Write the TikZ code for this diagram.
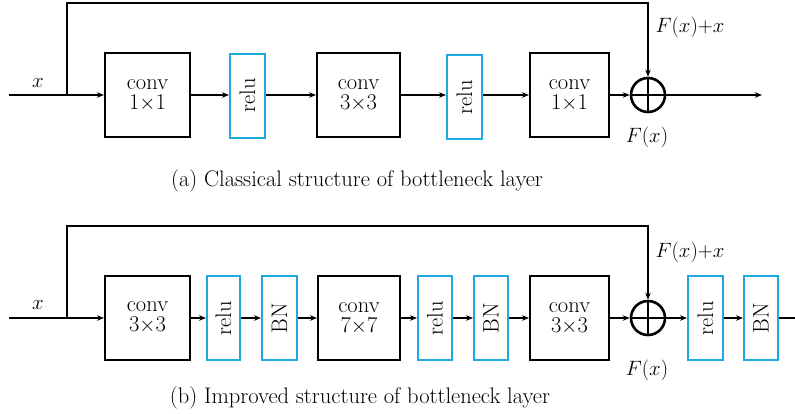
\documentclass[tikz,border=0pt]{standalone}
\usetikzlibrary{arrows.meta}
\definecolor{boxblue}{RGB}{32,168,226}
\begin{document}
\begin{tikzpicture}[x=1pt,y=-1pt,
  every node/.style={font=\fontsize{22.5}{24}\selectfont},
  convbox/.style={draw=black,line width=2pt,minimum width=#1,minimum height=84pt,inner sep=0pt,align=center},
  actbox/.style={draw=boxblue,line width=2pt,minimum width=#1,minimum height=84pt,inner sep=0pt},
  sumnode/.style={draw=black,circle,line width=2.6pt,minimum size=34pt,inner sep=0pt},
  conn/.style={line width=1.6pt},
  arr/.style={conn,-{Stealth[length=7pt,width=5.5pt]}}]
\useasboundingbox (0,0) rectangle (795,413);
% ---------- (a) ----------
\coordinate (ain) at (9,95);
\coordinate (asplit) at (67,95);
\coordinate (atl) at (67,3);
\coordinate (atr) at (648,3);
\coordinate (aout) at (762,95);
\node[convbox=85pt] (ac1) at (147.5,95) {conv\\[-4pt]1$\times$1};
\node[actbox=35pt] (ar1) at (247.5,95.5) {\rotatebox{90}{relu}};
\node[convbox=83pt] (ac2) at (358.5,95) {conv\\[-4pt]3$\times$3};
\node[actbox=35pt] (ar2) at (464.5,97) {\rotatebox{90}{relu}};
\node[convbox=79pt] (ac3) at (569.5,95) {conv\\[-4pt]1$\times$1};
\node[sumnode] (as) at (648,95) {};
\draw[line width=2.6pt] (as.north) -- (as.south) (as.west) -- (as.east);
\draw[conn] (ain) -- (asplit);
\draw[arr] (asplit) -- (ac1.west);
\draw[arr] (ac1.east) -- (ar1.west |- ac1.east);
\draw[arr] (ar1.east |- ac1.east) -- (ac2.west);
\draw[arr] (ac2.east) -- (ar2.west |- ac2.east);
\draw[arr] (ar2.east |- ac2.east) -- (ac3.west);
\draw[arr] (ac3.east) -- (as.west);
\draw[arr] (as.east) -- (aout);
\draw[arr] (asplit) -- (atl) -- (atr) -- (as.north);
\node (ax) at (38,83) {$x$};
\node (afx) at (690,27) {$F(x){+}x$};
\node (af) at (647,137) {$F(x)$};
\node (acap) at (357,181) {(a) Classical structure of bottleneck layer};
% ---------- (b) ----------
\coordinate (bin) at (9,318);
\coordinate (bsplit) at (67,318);
\coordinate (btl) at (67,226);
\coordinate (btr) at (648,226);
\coordinate (bout) at (795,318);
\node[convbox=85pt] (bc1) at (147.5,317.5) {conv\\[-4pt]3$\times$3};
\node[actbox=33pt] (br1) at (223.5,318) {\rotatebox{90}{relu}};
\node[actbox=35pt] (bb1) at (279.5,318) {\rotatebox{90}{BN}};
\node[convbox=82pt] (bc2) at (359,318) {conv\\[-4pt]7$\times$7};
\node[actbox=34pt] (br2) at (435,318) {\rotatebox{90}{relu}};
\node[actbox=34pt] (bb2) at (491,318) {\rotatebox{90}{BN}};
\node[convbox=79pt] (bc3) at (569.5,318) {conv\\[-4pt]3$\times$3};
\node[sumnode] (bs) at (648,318) {};
\draw[line width=2.6pt] (bs.north) -- (bs.south) (bs.west) -- (bs.east);
\node[actbox=35pt] (br3) at (705.5,318) {\rotatebox{90}{relu}};
\node[actbox=34pt] (bb3) at (761,318) {\rotatebox{90}{BN}};
\draw[conn] (bin) -- (bsplit);
\draw[arr] (bsplit) -- (bc1.west |- bsplit);
\draw[arr] (bc1.east |- bsplit) -- (br1.west);
\draw[arr] (br1.east) -- (bb1.west);
\draw[arr] (bb1.east) -- (bc2.west);
\draw[arr] (bc2.east) -- (br2.west);
\draw[arr] (br2.east) -- (bb2.west);
\draw[arr] (bb2.east) -- (bc3.west);
\draw[arr] (bc3.east) -- (bs.west);
\draw[arr] (bs.east) -- (br3.west);
\draw[arr] (br3.east) -- (bb3.west);
\draw[conn] (bb3.east) -- (bout);
\draw[arr] (bsplit) -- (btl) -- (btr) -- (bs.north);
\node (bx) at (38,305) {$x$};
\node (bfx) at (690,252) {$F(x){+}x$};
\node (bf) at (647,370) {$F(x)$};
\node (bcap) at (360,398) {(b) Improved structure of bottleneck layer};
\end{tikzpicture}
\end{document}
